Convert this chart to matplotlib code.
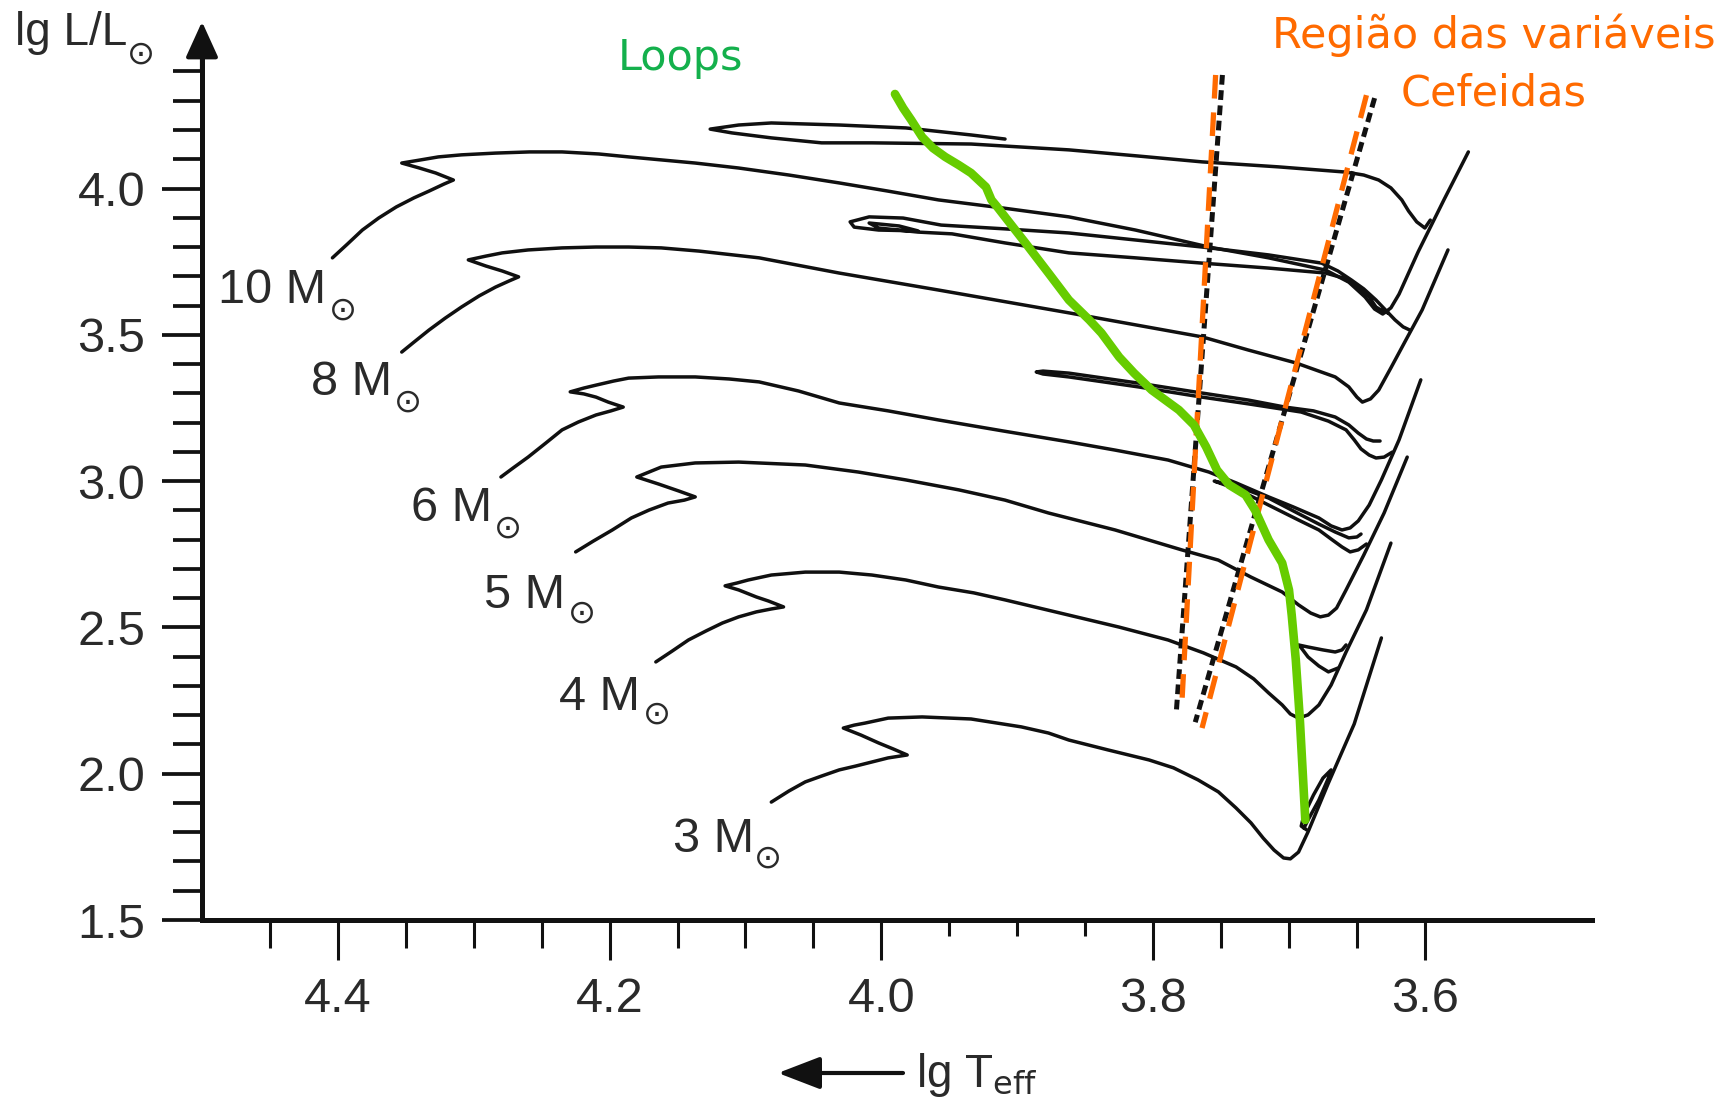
import matplotlib
matplotlib.use('Agg')
import matplotlib.pyplot as plt

plt.rcParams['font.family'] = ['Liberation Sans', 'DejaVu Sans']
plt.rcParams['mathtext.fontset'] = 'dejavusans'
plt.rcParams['lines.scale_dashes'] = False

# ---------------- data (lg Teff, lg L/Lsun) ----------------
t10 = [4.404, 4.393, 4.382, 4.370, 4.357, 4.344, 4.333, 4.322, 4.315, 4.328, 4.340, 4.353, 4.340, 4.326,
       4.309, 4.284, 4.259, 4.235, 4.208, 4.186, 4.137, 4.105, 4.068, 4.031, 3.995, 3.958, 3.910, 3.862,
       3.813, 3.759, 3.715, 3.673, 3.656, 3.644, 3.637, 3.631, 3.625, 3.619, 3.605, 3.586, 3.568]
l10 = [3.763, 3.810, 3.858, 3.899, 3.937, 3.968, 3.991, 4.015, 4.029, 4.053, 4.070, 4.087, 4.097, 4.108,
       4.115, 4.121, 4.125, 4.125, 4.118, 4.108, 4.087, 4.070, 4.046, 4.019, 3.991, 3.961, 3.933, 3.903,
       3.858, 3.800, 3.763, 3.721, 3.680, 3.629, 3.588, 3.571, 3.592, 3.639, 3.783, 3.961, 4.125]
t10_loop = [3.596, 3.600, 3.606, 3.612, 3.617, 3.625, 3.634, 3.645, 3.658, 3.708, 3.764, 3.811, 3.862,
            3.934, 4.007, 4.044, 4.081, 4.110, 4.126, 4.105, 4.081, 4.031, 3.982, 3.934, 3.909]
l10_loop = [3.892, 3.865, 3.886, 3.923, 3.961, 4.002, 4.029, 4.046, 4.056, 4.074, 4.091, 4.111, 4.132,
            4.152, 4.156, 4.156, 4.173, 4.190, 4.203, 4.217, 4.224, 4.217, 4.207, 4.183, 4.169]

t8 = [4.353, 4.344, 4.333, 4.321, 4.309, 4.296, 4.284, 4.274, 4.267, 4.279, 4.291, 4.304, 4.291, 4.279,
      4.260, 4.235, 4.210, 4.186, 4.162, 4.134, 4.090, 4.031, 3.958, 3.862, 3.813, 3.764, 3.730, 3.695,
      3.666, 3.656, 3.650, 3.646, 3.640, 3.634, 3.625, 3.614, 3.602, 3.583]
l8 = [3.441, 3.475, 3.516, 3.557, 3.595, 3.633, 3.663, 3.684, 3.698, 3.718, 3.735, 3.756, 3.769, 3.780,
      3.790, 3.797, 3.800, 3.800, 3.797, 3.786, 3.763, 3.711, 3.653, 3.575, 3.534, 3.493, 3.448, 3.404,
      3.356, 3.322, 3.287, 3.270, 3.281, 3.311, 3.387, 3.482, 3.585, 3.790]
t8_loop = [3.611, 3.616, 3.622, 3.629, 3.636, 3.645, 3.654, 3.664, 3.676, 3.715, 3.764, 3.813, 3.862,
           3.909, 3.956, 3.984, 4.009, 4.023, 4.020, 4.002, 3.973, 3.987, 4.009, 4.002, 3.973, 3.948,
           3.909, 3.862, 3.813, 3.764, 3.715, 3.673, 3.660, 3.650, 3.641, 3.636, 3.630, 3.627]
l8_loop = [3.516, 3.527, 3.551, 3.585, 3.619, 3.657, 3.687, 3.718, 3.745, 3.773, 3.800, 3.824, 3.848,
           3.862, 3.875, 3.899, 3.903, 3.886, 3.868, 3.858, 3.855, 3.872, 3.882, 3.865, 3.851, 3.845,
           3.814, 3.780, 3.763, 3.745, 3.728, 3.711, 3.694, 3.663, 3.629, 3.595, 3.578, 3.575]

t6 = [4.280, 4.271, 4.260, 4.247, 4.235, 4.223, 4.210, 4.199, 4.190, 4.201, 4.210, 4.219, 4.229, 4.219,
      4.210, 4.197, 4.186, 4.164, 4.137, 4.112, 4.090, 4.061, 4.031, 3.995, 3.958, 3.910, 3.862, 3.828,
      3.789, 3.759, 3.739, 3.715, 3.697, 3.678, 3.669, 3.661, 3.655, 3.649, 3.641, 3.632, 3.619, 3.603]
l6 = [3.014, 3.045, 3.082, 3.130, 3.175, 3.202, 3.226, 3.240, 3.253, 3.270, 3.287, 3.298, 3.305, 3.318,
      3.328, 3.342, 3.352, 3.356, 3.356, 3.349, 3.339, 3.308, 3.267, 3.240, 3.209, 3.171, 3.134, 3.106,
      3.072, 3.031, 2.994, 2.946, 2.912, 2.874, 2.847, 2.833, 2.840, 2.864, 2.918, 3.004, 3.141, 3.346]
t6_loop = [3.624, 3.630, 3.636, 3.641, 3.647, 3.652, 3.658, 3.671, 3.691, 3.730, 3.764, 3.811, 3.862,
           3.881, 3.886, 3.881, 3.862, 3.811, 3.764, 3.730, 3.703, 3.682, 3.666, 3.656, 3.649, 3.643,
           3.638, 3.633]
l6_loop = [3.099, 3.082, 3.079, 3.089, 3.110, 3.141, 3.175, 3.205, 3.236, 3.264, 3.287, 3.322, 3.356,
           3.366, 3.373, 3.376, 3.369, 3.335, 3.301, 3.277, 3.253, 3.240, 3.219, 3.192, 3.164, 3.144,
           3.137, 3.137]

t5 = [4.225, 4.212, 4.198, 4.184, 4.171, 4.157, 4.145, 4.137, 4.149, 4.164, 4.180, 4.171, 4.162, 4.137,
      4.105, 4.056, 4.017, 3.982, 3.943, 3.909, 3.877, 3.828, 3.779, 3.752, 3.728, 3.705, 3.693, 3.684,
      3.677, 3.671, 3.665, 3.658, 3.645, 3.630, 3.613]
l5 = [2.758, 2.795, 2.833, 2.874, 2.901, 2.925, 2.935, 2.946, 2.966, 2.990, 3.014, 3.031, 3.048, 3.062,
      3.065, 3.055, 3.031, 3.004, 2.970, 2.935, 2.891, 2.833, 2.765, 2.730, 2.672, 2.621, 2.577, 2.549,
      2.536, 2.542, 2.566, 2.628, 2.747, 2.891, 3.082]
t5_loop = [3.643, 3.649, 3.655, 3.661, 3.669, 3.678, 3.693, 3.715, 3.737, 3.755, 3.737, 3.715, 3.691,
           3.678, 3.666, 3.656, 3.650, 3.647]
l5_loop = [2.785, 2.765, 2.758, 2.775, 2.802, 2.833, 2.867, 2.918, 2.970, 3.000, 2.980, 2.942, 2.884,
           2.853, 2.826, 2.806, 2.809, 2.819]

t4 = [4.166, 4.154, 4.142, 4.129, 4.117, 4.105, 4.092, 4.081, 4.072, 4.083, 4.092, 4.105, 4.115, 4.106,
      4.098, 4.081, 4.056, 4.031, 4.007, 3.982, 3.958, 3.932, 3.909, 3.862, 3.825, 3.789, 3.763, 3.739,
      3.726, 3.715, 3.705, 3.699, 3.693, 3.686, 3.678, 3.669, 3.658, 3.643, 3.625]
l4 = [2.382, 2.419, 2.457, 2.488, 2.515, 2.536, 2.553, 2.563, 2.570, 2.590, 2.604, 2.628, 2.642, 2.652,
      2.662, 2.679, 2.689, 2.689, 2.679, 2.662, 2.638, 2.618, 2.594, 2.542, 2.501, 2.457, 2.413, 2.365,
      2.324, 2.276, 2.235, 2.204, 2.190, 2.201, 2.235, 2.303, 2.416, 2.560, 2.788]
t4_loop = [3.664, 3.671, 3.678, 3.686, 3.691, 3.693, 3.686, 3.675, 3.666, 3.661, 3.658]
l4_loop = [2.361, 2.348, 2.368, 2.399, 2.430, 2.440, 2.433, 2.423, 2.416, 2.423, 2.440]

t3 = [4.081, 4.068, 4.056, 4.044, 4.031, 4.019, 4.007, 3.995, 3.981, 3.991, 4.002, 4.015, 4.028, 4.020,
      4.012, 3.995, 3.970, 3.934, 3.897, 3.877, 3.862, 3.833, 3.803, 3.785, 3.767, 3.752, 3.739, 3.728,
      3.719, 3.711, 3.704, 3.699, 3.693, 3.686, 3.671, 3.652, 3.632]
l3 = [1.903, 1.941, 1.972, 1.992, 2.013, 2.026, 2.040, 2.054, 2.064, 2.084, 2.105, 2.132, 2.156, 2.166,
      2.173, 2.190, 2.194, 2.187, 2.160, 2.139, 2.115, 2.081, 2.047, 2.020, 1.979, 1.938, 1.883, 1.832,
      1.780, 1.739, 1.712, 1.709, 1.732, 1.801, 1.968, 2.170, 2.464]
t3_loop = [3.687, 3.691, 3.689, 3.682, 3.675, 3.669, 3.671, 3.678, 3.686, 3.689]
l3_loop = [1.808, 1.821, 1.859, 1.927, 1.985, 2.013, 1.985, 1.910, 1.842, 1.814]

# green "Loops" line
t_green = [3.990, 3.984, 3.978, 3.970, 3.962, 3.953, 3.943, 3.934, 3.923, 3.919, 3.914, 3.909, 3.894,
           3.877, 3.862, 3.847, 3.838, 3.825, 3.814, 3.801, 3.781, 3.770, 3.761, 3.753, 3.744, 3.732,
           3.725, 3.715, 3.705, 3.700, 3.698, 3.695, 3.692, 3.690, 3.688]
l_green = [4.323, 4.275, 4.234, 4.176, 4.138, 4.108, 4.080, 4.053, 4.005, 3.961, 3.933, 3.903, 3.814,
           3.711, 3.619, 3.551, 3.506, 3.424, 3.369, 3.311, 3.243, 3.192, 3.117, 3.038, 2.987, 2.953,
           2.901, 2.799, 2.720, 2.628, 2.542, 2.389, 2.184, 2.013, 1.842]

# Cepheid instability strip edges
blue_edge_orange_t = [3.754, 3.779]
blue_edge_orange_l = [4.388, 2.228]
blue_edge_black_t = [3.749, 3.783]
blue_edge_black_l = [4.388, 2.207]
red_edge_orange_t = [3.643, 3.764]
red_edge_orange_l = [4.319, 2.156]
red_edge_black_t = [3.637, 3.769]
red_edge_black_l = [4.309, 2.176]

# ticks
x_major = [4.4, 4.2, 4.0, 3.8, 3.6]
x_major_labels = ['4.4', '4.2', '4.0', '3.8', '3.6']
x_minor = [4.45, 4.35, 4.30, 4.25, 4.15, 4.10, 4.05, 3.95, 3.90, 3.85, 3.75, 3.70, 3.65]
x_minor_short = [3.95, 3.90, 3.85]
y_major = [1.5, 2.0, 2.5, 3.0, 3.5, 4.0]
y_major_labels = ['1.5', '2.0', '2.5', '3.0', '3.5', '4.0']
y_minor = [1.6, 1.7, 1.8, 1.9, 2.1, 2.2, 2.3, 2.4, 2.6, 2.7, 2.8, 2.9, 3.1, 3.2, 3.3, 3.4,
           3.6, 3.7, 3.8, 3.9, 4.1, 4.2, 4.3, 4.4]

mass_labels = ['10', '8', '6', '5', '4', '3']

# ---------------- figure ----------------
W, H = 1731, 1105
fig = plt.figure(figsize=(W / 100, H / 100), dpi=100)
fig.patch.set_facecolor('white')

X_LEFT, X_RIGHT = 4.5, 3.477
Y_BOT, Y_TOP = 1.5, 4.57
ax = fig.add_axes([202 / W, 185 / H, 1390 / W, (Y_TOP - Y_BOT) * 292.6 / H])
ax.set_xlim(X_LEFT, X_RIGHT)
ax.set_ylim(Y_BOT, Y_TOP)
ax.patch.set_alpha(0)

def fpx(x, y):
    return (x / W, 1 - y / H)

track_kw = dict(color='#101010', lw=2.5, solid_joinstyle='round', solid_capstyle='round', zorder=3)
for t, l in [(t10, l10), (t10_loop, l10_loop), (t8, l8), (t8_loop, l8_loop), (t6, l6), (t6_loop, l6_loop),
             (t5, l5), (t5_loop, l5_loop), (t4, l4), (t4_loop, l4_loop), (t3, l3), (t3_loop, l3_loop)]:
    ax.plot(t, l, **track_kw)

# instability strip
for t, l in [(blue_edge_black_t, blue_edge_black_l), (red_edge_black_t, red_edge_black_l)]:
    ax.plot(t, l, color='#111111', lw=3.6, dashes=(7, 4), zorder=4)
for t, l in [(blue_edge_orange_t, blue_edge_orange_l), (red_edge_orange_t, red_edge_orange_l)]:
    ax.plot(t, l, color='#ff6a00', lw=3.8, dashes=(17, 10), zorder=5)

# green loops line
ax.plot(t_green, l_green, color='#66cc00', lw=6.2, solid_capstyle='round', solid_joinstyle='round', zorder=6)

# axes styling
for s in ['top', 'right']:
    ax.spines[s].set_visible(False)
ax.spines['left'].set_bounds(1.5, 4.46)
ax.spines['left'].set_linewidth(3.6)
ax.spines['bottom'].set_linewidth(3.6)
ax.spines['left'].set_color('#111111')
ax.spines['bottom'].set_color('#111111')

ax.set_xticks(x_major)
ax.set_xticklabels(x_major_labels)
ax.set_xticks(x_minor, minor=True)
ax.set_yticks(y_major)
ax.set_yticklabels(y_major_labels)
ax.set_yticks(y_minor, minor=True)
ax.tick_params(axis='x', which='major', direction='out', length=29, width=2.2, pad=12,
               labelsize=35, colors='#111111', labelcolor='#2a2a2a')
ax.tick_params(axis='x', which='minor', direction='out', length=20, width=2.2, colors='#111111')
ax.tick_params(axis='y', which='major', direction='out', length=29, width=2.7, pad=12,
               labelsize=35, colors='#111111', labelcolor='#2a2a2a')
ax.tick_params(axis='y', which='minor', direction='out', length=21, width=2.7, colors='#111111')
for tk, loc in zip(ax.xaxis.get_minor_ticks(len(x_minor)), x_minor):
    if loc in x_minor_short:
        tk.tick1line.set_markersize(11.5)

# y axis arrow head
ax.annotate('', xy=(X_LEFT, 4.57), xytext=(X_LEFT, 4.40), xycoords='data',
            arrowprops=dict(arrowstyle='-|>,head_length=22,head_width=10', mutation_scale=1,
                            lw=3.0, color='#111111', shrinkA=0, shrinkB=0),
            annotation_clip=False, zorder=7)

# sun symbol helper (larger, lower subscript circle like the reference)
def sun(x, y):
    fig.text(*fpx(x, y), r'$\odot$', fontsize=24, color='#2a2a2a', ha='center', va='center')

# axis titles
fig.text(*fpx(15, 45), 'lg L/L', fontsize=33, color='#2a2a2a', ha='left', va='baseline')
sun(139, 55)
fig.text(*fpx(916, 1087), r'lg T$_{\mathrm{eff}}$', fontsize=33, color='#2a2a2a', ha='left', va='baseline')
ax.annotate('', xy=fpx(778, 1073), xycoords='figure fraction', xytext=fpx(903, 1073),
            textcoords='figure fraction',
            arrowprops=dict(arrowstyle='-|>,head_length=26,head_width=10', mutation_scale=1,
                            lw=3.0, color='#111111', shrinkA=0, shrinkB=0),
            annotation_clip=False)

# mass labels
mass_pos = [(218, 303), (311, 395), (411, 521), (484, 608), (559, 710), (673, 852)]
sun_pos = [(341, 311), (406, 403), (506, 529), (580, 614), (655, 715), (766, 859)]
for m, (px, py), (sx, sy) in zip(mass_labels, mass_pos, sun_pos):
    fig.text(*fpx(px, py), m + ' M', fontsize=35, color='#2a2a2a', ha='left', va='baseline')
    sun(sx, sy)

# annotations
fig.text(*fpx(618, 70), 'Loops', fontsize=31, color='#14b04c', family='DejaVu Sans',
         ha='left', va='baseline')
fig.text(*fpx(1494, 48), 'Região das variáveis', fontsize=31, color='#ff6a00', family='DejaVu Sans',
         ha='center', va='baseline')
fig.text(*fpx(1494, 106), 'Cefeidas', fontsize=31, color='#ff6a00', family='DejaVu Sans',
         ha='center', va='baseline')

fig.savefig('out.png', dpi=100, facecolor='white')
